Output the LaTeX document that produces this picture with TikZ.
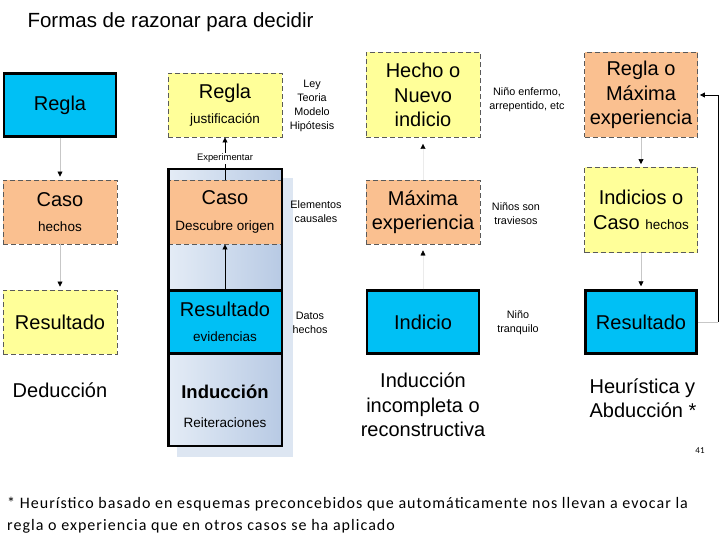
\documentclass[tikz,border=0pt]{standalone}
\usepackage{fontspec}
\setmainfont{Liberation Sans}
\newfontfamily\notefont[LetterSpace=6.5]{Carlito}
\newfontfamily\pagefont{Carlito}
\usetikzlibrary{positioning,arrows.meta,calc}
\definecolor{celeste}{RGB}{0,192,245}
\definecolor{naranja}{RGB}{250,192,144}
\definecolor{amarillo}{RGB}{255,255,153}
\definecolor{panelA}{RGB}{228,236,246}
\definecolor{panelB}{RGB}{184,202,228}
\definecolor{sombra}{RGB}{221,230,242}
\definecolor{borde}{RGB}{90,90,90}
\newcommand{\chico}{\fontsize{13.5}{16}\selectfont}

\begin{document}
\begin{tikzpicture}[x=1pt, y=-1pt,
  fuerte/.style={draw=black, line width=2.5pt, fill=celeste, minimum width=112pt, minimum height=63pt, align=center, inner sep=0pt},
  suave/.style={draw=borde, line width=0.9pt, dash pattern=on 5pt off 3pt, minimum width=114pt, minimum height=64pt, align=center, inner sep=0pt},
  grande/.style={font=\fontsize{20}{24.5}\selectfont, align=center},
  nota/.style={font=\fontsize{10.8}{14}\selectfont, align=center, inner sep=0pt},
  gris/.style={draw=black!22, line width=0.7pt},
  flecha/.style={-{Triangle[length=5pt,width=5pt,color=black]}, shorten >=3pt}]
  \useasboundingbox (0,0) rectangle (720,540);
  \node[anchor=west, font=\fontsize{20.5}{24}\selectfont] (titulo) at (24,22) {Formas de razonar para decidir};

  % Deducción
  \node[fuerte, grande] (dregla) at (60,105) {Regla};
  \node[suave, fill=naranja, grande] (dcaso) at (60,212) {Caso\\[1pt]{\chico hechos}};
  \node[suave, fill=amarillo, grande] (dres) at (60,322) {Resultado};
  \node[grande] (ded) at (60,390) {Deducción};
  \draw[gris, flecha] (dregla) -- (dcaso);
  \draw[gris, flecha] (dcaso) -- (dres);

  % Inducción
  \node[suave, fill=amarillo, grande] (iregla) at (225,105) {Regla\\[1pt]{\chico justificación}};
  \fill[sombra] (177,178) rectangle (293,457);
  \node[left color=panelA, right color=panelB, minimum width=113.5pt, minimum height=276.5pt, inner sep=0pt, outer sep=0pt] (ipanel) at (225,307.5) {};
  \node[suave, fill=naranja, grande, minimum width=113.5pt] (icaso) at (225,212) {Caso\\[1pt]{\chico Descubre origen}};
  \node[fuerte, grande, minimum width=113.5pt] (ires) at (225,322) {Resultado\\[1pt]{\chico evidencias}};
  \draw[line width=2.5pt] (ipanel.north west) rectangle (ipanel.south east);
  \node[font=\fontsize{18.5}{22}\selectfont\bfseries] (iind) at (225,392) {Inducción};
  \node[font=\chico] (ireit) at (225,423) {Reiteraciones};
  \draw[-{Triangle[length=5pt,width=5pt]}, line width=0.8pt] (icaso) -- node[fill=white, inner sep=1pt, font=\fontsize{9.4}{11}\selectfont] (exper) {Experimentar} (iregla);
  \draw[-{Triangle[length=5pt,width=5pt]}, line width=0.8pt] (ires) -- (icaso);

  \node[nota] (ley) at (312,106) {Ley\\Teoria\\Modelo\\Hipótesis};
  \node[nota] (causal) at (316,212) {Elementos\\causales};
  \node[nota] (datos) at (310,323) {Datos\\hechos};

  % Inducción incompleta
  \node[suave, fill=amarillo, grande, minimum height=85pt] (hecho) at (423,95) {Hecho o\\Nuevo\\indicio};
  \node[suave, fill=naranja, grande] (maxima) at (423,212) {Máxima\\experiencia};
  \node[fuerte, grande] (indicio) at (423,322) {Indicio};
  \node[grande] (incomp) at (423,405) {Inducción\\incompleta o\\reconstructiva};
  \draw[draw=black!8, flecha, shorten >=6pt] (indicio) -- (maxima);
  \draw[draw=black!8, flecha, shorten >=6pt] (maxima) -- (hecho);

  \node[nota] (enfermo) at (527,100) {Niño enfermo,\\arrepentido, etc};
  \node[nota] (travieso) at (516,214) {Niños son\\traviesos};
  \node[nota] (tranq) at (518,323) {Niño\\tranquilo};

  % Heurística y abducción
  \node[suave, fill=naranja, grande, minimum width=113pt, minimum height=85pt] (rmax) at (641,95) {Regla o\\Máxima\\experiencia};
  \node[suave, fill=amarillo, grande, minimum width=113pt, minimum height=85pt] (indcaso) at (641,210) {Indicios o\\Caso {\chico hechos}};
  \node[fuerte, grande, minimum width=111pt] (hres) at (641,322) {Resultado};
  \node[grande, align=left] (heur) at (643,398) {Heurística y\\Abducción *};
  \draw[gris, flecha] (rmax) -- (indcaso);
  \draw[gris, flecha] (indcaso) -- (hres);
  \coordinate (vuelta) at (718,322);
  \draw[gris] (hres) -- (vuelta);
  \draw[-{Triangle[length=5pt,width=5pt]}, line width=0.8pt, shorten >=2pt] (vuelta) |- (rmax.east);

  \node[font=\pagefont\fontsize{9}{10}\selectfont] (pagina) at (700,451) {41};
  \node[anchor=north west, align=left, inner sep=0pt, font=\notefont\fontsize{16}{22}\selectfont] (pie) at (7,497) {* Heurístico basado en esquemas preconcebidos que automáticamente nos llevan a evocar la\\regla o experiencia que en otros casos se ha aplicado};
\end{tikzpicture}
\end{document}
